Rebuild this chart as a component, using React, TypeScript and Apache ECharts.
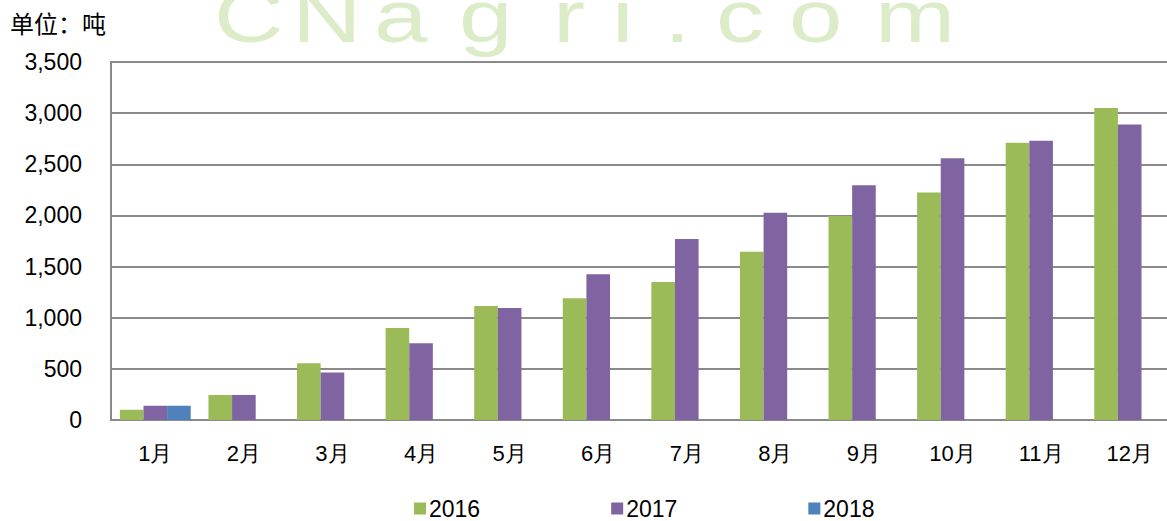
import React, { useEffect, useRef } from "react";
import * as echarts from "echarts";

const categories = ["1月", "2月", "3月", "4月", "5月", "6月", "7月", "8月", "9月", "10月", "11月", "12月"];
const series2016 = [100, 245, 555, 900, 1115, 1190, 1350, 1645, 1995, 2225, 2710, 3050];
const series2017 = [140, 245, 465, 750, 1095, 1425, 1770, 2025, 2295, 2560, 2730, 2890];
const series2018: (number | null)[] = [140, null, null, null, null, null, null, null, null, null, null, null];
const seriesNames = ["2016", "2017", "2018"];
const colors = ["#9BBB59", "#8064A2", "#4F81BD"];
const yTicks = { min: 0, max: 3500, interval: 500 };
const unitLabel = "单位：吨";
const watermarkLetters = ["C", "N", "a", "g", "r", "i", ".", "c", "o", "m"];
const watermarkX = [214, 292, 374, 459, 553, 612, 664, 716, 789, 875];

export default function App() {
  const ref = useRef<HTMLDivElement>(null);
  useEffect(() => {
    if (!ref.current) return;
    const chart = echarts.init(ref.current, null, { renderer: "svg" });
    const font = "Arial, 'Liberation Sans', sans-serif";
    const watermark = watermarkLetters.map((ch, i) => ({
      type: "text",
      x: watermarkX[i],
      y: -21,
      scaleX: 1.3,
      z: -10,
      silent: true,
      style: {
        text: ch,
        fontSize: 74,
        fontFamily: font,
        fill: "#dcebc8",
        textVerticalAlign: "alphabetic",
        verticalAlign: "bottom",
        textBaseline: "alphabetic",
      },
    }));
    chart.setOption({
      animation: false,
      backgroundColor: "#ffffff",
      graphic: [
        ...watermark,
        {
          type: "text",
          left: 10,
          top: 10,
          style: {
            text: unitLabel,
            fontSize: 24,
            fontFamily: "'Noto Sans CJK SC', sans-serif",
            fill: "#000000",
          },
        },
      ],
      legend: {
        data: seriesNames,
        left: 409,
        top: 492,
        itemWidth: 12,
        itemHeight: 12,
        itemGap: 131,
        icon: "rect",
        textStyle: { fontSize: 23, fontFamily: font, color: "#000", padding: [0, 0, 0, -2] },
      },
      grid: { left: 111, top: 62, width: 1063, height: 358 },
      xAxis: {
        type: "category",
        data: categories,
        axisLine: { lineStyle: { color: "#8a8a8a", width: 2 } },
        axisTick: { show: false },
        axisLabel: { fontSize: 22, fontFamily: font, color: "#000", margin: 22 },
      },
      yAxis: {
        type: "value",
        min: yTicks.min,
        max: yTicks.max,
        interval: yTicks.interval,
        axisLine: { show: true, lineStyle: { color: "#8a8a8a", width: 2 } },
        axisTick: { show: false },
        splitLine: { lineStyle: { color: "#8a8a8a", width: 2 } },
        axisLabel: {
          fontSize: 23,
          fontFamily: font,
          color: "#000",
          margin: 29,
          formatter: (v: number) => v.toLocaleString("en-US"),
        },
      },
      series: [series2016, series2017, series2018].map((d, i) => ({
        name: seriesNames[i],
        type: "bar",
        data: d,
        barGap: "0%",
        barCategoryGap: "20%",
        itemStyle: { color: colors[i] },
      })),
    });
    return () => chart.dispose();
  }, []);
  return (
    <div style={{ position: "absolute", left: 0, top: 0, width: 1167, height: 521, overflow: "hidden" }}>
      <div ref={ref} style={{ width: 1190, height: 521 }} />
    </div>
  );
}
